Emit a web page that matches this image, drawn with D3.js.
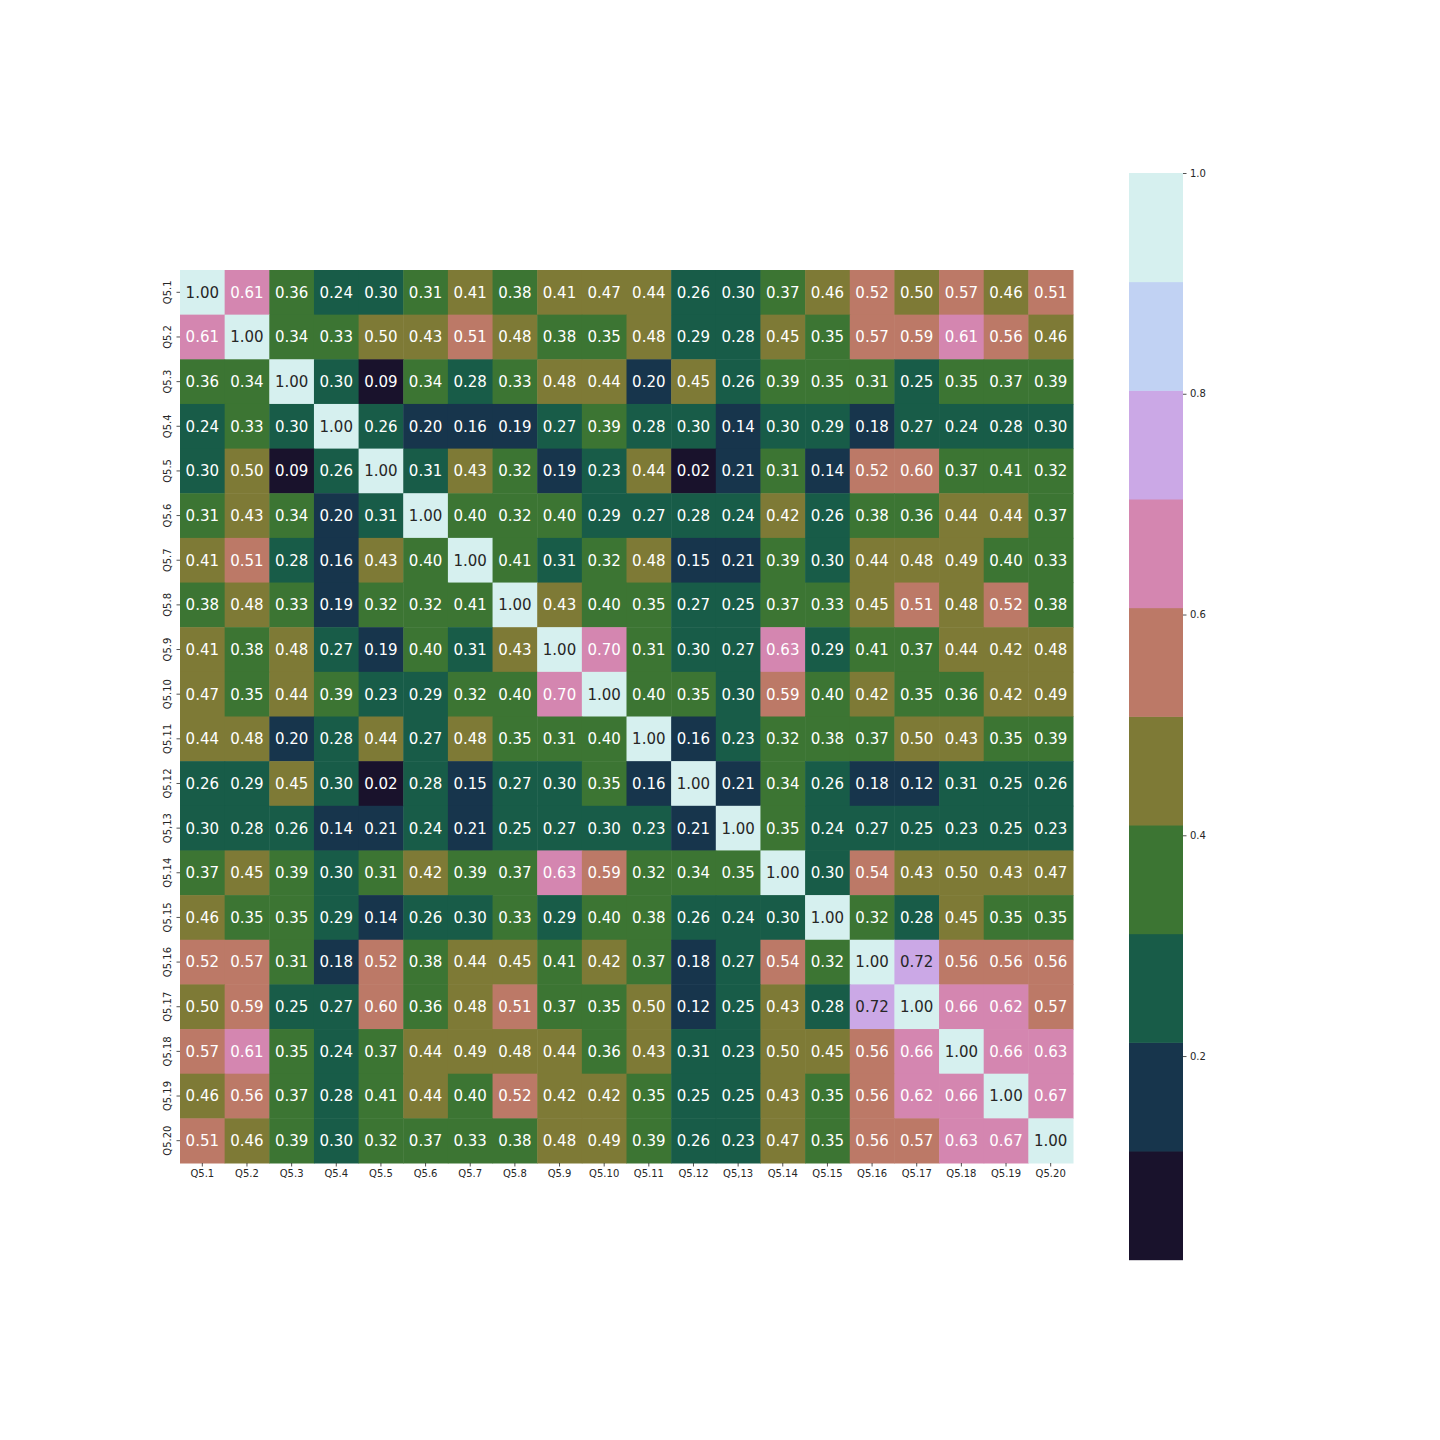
<!DOCTYPE html>
<html>
<head>
<meta charset="utf-8">
<script src="https://cdn.jsdelivr.net/npm/d3@7"></script>
<style>
  body { margin: 0; background: #fff; }
  svg { font-family: "DejaVu Sans", sans-serif; }
</style>
</head>
<body>
<div id="chart"></div>
<script>
var labels = ["Q5.1","Q5.2","Q5.3","Q5.4","Q5.5","Q5.6","Q5.7","Q5.8","Q5.9","Q5.10",
              "Q5.11","Q5.12","Q5,13","Q5.14","Q5.15","Q5.16","Q5.17","Q5.18","Q5.19","Q5.20"];

// correlation rows, Q5.1 .. Q5.20
var row01 = [1.00,0.61,0.36,0.24,0.30,0.313,0.413,0.38,0.413,0.47,0.44,0.26,0.30,0.37,0.46,0.52,0.50,0.57,0.46,0.51];
var row02 = [0.61,1.00,0.34,0.33,0.50,0.43,0.51,0.48,0.38,0.35,0.48,0.29,0.28,0.45,0.35,0.57,0.59,0.61,0.56,0.46];
var row03 = [0.36,0.34,1.00,0.30,0.09,0.34,0.28,0.33,0.48,0.44,0.20,0.45,0.26,0.39,0.35,0.313,0.25,0.35,0.37,0.39];
var row04 = [0.24,0.33,0.30,1.00,0.26,0.20,0.16,0.19,0.27,0.39,0.28,0.30,0.14,0.30,0.29,0.18,0.27,0.24,0.28,0.30];
var row05 = [0.30,0.50,0.09,0.26,1.00,0.307,0.43,0.32,0.19,0.23,0.44,0.0155,0.21,0.313,0.14,0.52,0.60,0.37,0.407,0.32];
var row06 = [0.313,0.43,0.34,0.20,0.307,1.00,0.40,0.32,0.40,0.29,0.27,0.28,0.24,0.42,0.26,0.38,0.36,0.44,0.44,0.37];
var row07 = [0.413,0.51,0.28,0.16,0.43,0.40,1.00,0.407,0.307,0.32,0.48,0.15,0.21,0.39,0.30,0.44,0.48,0.49,0.40,0.33];
var row08 = [0.38,0.48,0.33,0.19,0.32,0.32,0.407,1.00,0.43,0.40,0.35,0.27,0.25,0.37,0.33,0.45,0.51,0.48,0.52,0.38];
var row09 = [0.413,0.38,0.48,0.27,0.19,0.40,0.307,0.43,1.00,0.70,0.313,0.30,0.27,0.63,0.29,0.407,0.37,0.44,0.42,0.48];
var row10 = [0.47,0.35,0.44,0.39,0.23,0.29,0.32,0.40,0.70,1.00,0.40,0.35,0.30,0.59,0.40,0.42,0.35,0.36,0.42,0.49];
var row11 = [0.44,0.48,0.20,0.28,0.44,0.27,0.48,0.35,0.313,0.40,1.00,0.16,0.23,0.32,0.38,0.37,0.50,0.43,0.35,0.39];
var row12 = [0.26,0.29,0.45,0.30,0.0155,0.28,0.15,0.27,0.30,0.35,0.16,1.00,0.21,0.34,0.26,0.18,0.12,0.307,0.25,0.26];
var row13 = [0.30,0.28,0.26,0.14,0.21,0.24,0.21,0.25,0.27,0.30,0.23,0.21,1.00,0.35,0.24,0.27,0.25,0.23,0.25,0.23];
var row14 = [0.37,0.45,0.39,0.30,0.313,0.42,0.39,0.37,0.63,0.59,0.32,0.34,0.35,1.00,0.30,0.54,0.43,0.50,0.43,0.47];
var row15 = [0.46,0.35,0.35,0.29,0.14,0.26,0.30,0.33,0.29,0.40,0.38,0.26,0.24,0.30,1.00,0.32,0.28,0.45,0.35,0.35];
var row16 = [0.52,0.57,0.313,0.18,0.52,0.38,0.44,0.45,0.407,0.42,0.37,0.18,0.27,0.54,0.32,1.00,0.72,0.56,0.56,0.56];
var row17 = [0.50,0.59,0.25,0.27,0.60,0.36,0.48,0.51,0.37,0.35,0.50,0.12,0.25,0.43,0.28,0.72,1.00,0.66,0.62,0.57];
var row18 = [0.57,0.61,0.35,0.24,0.37,0.44,0.49,0.48,0.44,0.36,0.43,0.307,0.23,0.50,0.45,0.56,0.66,1.00,0.66,0.63];
var row19 = [0.46,0.56,0.37,0.28,0.407,0.44,0.40,0.52,0.42,0.42,0.35,0.25,0.25,0.43,0.35,0.56,0.62,0.66,1.00,0.67];
var row20 = [0.51,0.46,0.39,0.30,0.32,0.37,0.33,0.38,0.48,0.49,0.39,0.26,0.23,0.47,0.35,0.56,0.57,0.63,0.67,1.00];

var colorbarTicks = [0.2, 0.4, 0.6, 0.8, 1.0];

var rows = [row01,row02,row03,row04,row05,row06,row07,row08,row09,row10,
            row11,row12,row13,row14,row15,row16,row17,row18,row19,row20];

// matplotlib cubehelix (gamma 1, s .5, r -1.5, h 1) sampled like seaborn does (10 bins)
function cubehelix(x){
  var amp = x * (1 - x) / 2;
  var phi = 2 * Math.PI * (0.5 / 3 - 1.5 * x);
  var c = Math.cos(phi), s = Math.sin(phi);
  var r = x + amp * (-0.14861 * c + 1.78277 * s);
  var g = x + amp * (-0.29227 * c - 0.90649 * s);
  var b = x + amp * (1.97294 * c);
  var f = function(v){ return Math.round(Math.max(0, Math.min(1, v)) * 255); };
  return d3.rgb(f(r), f(g), f(b)).formatHex();
}
var palette = [];
for (var i = 1; i <= 10; i++){
  palette.push(cubehelix(i / 11));
}

function luminance(hex){
  var c = d3.rgb(hex);
  var ch = [c.r, c.g, c.b].map(function(v){
    v = v / 255;
    return v <= 0.03928 ? v / 12.92 : Math.pow((v + 0.055) / 1.055, 2.4);
  });
  return 0.2126 * ch[0] + 0.7152 * ch[1] + 0.0722 * ch[2];
}

var drawHeatmap = function(div_id){
  var vmin = d3.min(rows, function(r){ return d3.min(r); });
  var vmax = 1.0;

  var svg = d3.select("#" + div_id).append("svg")
    .attr("width", 1440)
    .attr("height", 1440);

  var margin = {left: 180, top: 270}, size = 893;

  var x = d3.scaleBand().domain(labels).range([margin.left, margin.left + size]);
  var y = d3.scaleBand().domain(labels).range([margin.top, margin.top + size]);
  var color = d3.scaleQuantize().domain([vmin, vmax]).range(palette);

  var cells = [];
  rows.forEach(function(r, ri){
    r.forEach(function(v, ci){
      cells.push({row: labels[ri], col: labels[ci], value: v});
    });
  });

  var g = svg.append("g");

  g.selectAll("rect.cell")
    .data(cells)
    .enter()
    .append("rect")
    .attr("class", "cell")
    .attr("x", function(d){ return x(d.col); })
    .attr("y", function(d){ return y(d.row); })
    .attr("width", x.bandwidth() + 0.5)
    .attr("height", y.bandwidth() + 0.5)
    .attr("fill", function(d){ return color(d.value); });

  g.selectAll("text.annot")
    .data(cells)
    .enter()
    .append("text")
    .attr("class", "annot")
    .attr("x", function(d){ return x(d.col) + x.bandwidth() / 2; })
    .attr("y", function(d){ return y(d.row) + y.bandwidth() / 2; })
    .attr("dy", "0.36em")
    .attr("text-anchor", "middle")
    .attr("font-size", 15)
    .attr("fill", function(d){ return luminance(color(d.value)) > 0.408 ? "#262626" : "#ffffff"; })
    .text(function(d){ return d.value.toFixed(2); });

  // axes
  var xAxis = svg.append("g")
    .attr("transform", "translate(0," + (margin.top + size) + ")")
    .call(d3.axisBottom(x).tickSize(3.5).tickPadding(3.5));
  xAxis.select(".domain").remove();
  xAxis.selectAll("text").attr("font-size", 10).attr("fill", "#262626").attr("font-family", "DejaVu Sans");
  xAxis.selectAll("line").attr("stroke", "#262626").attr("stroke-width", 0.8);

  var yAxis = svg.append("g")
    .attr("transform", "translate(" + margin.left + ",0)")
    .call(d3.axisLeft(y).tickSize(3.5).tickPadding(3.5));
  yAxis.select(".domain").remove();
  yAxis.selectAll("line").attr("stroke", "#262626").attr("stroke-width", 0.8);
  yAxis.selectAll("text")
    .attr("font-size", 10)
    .attr("fill", "#262626")
    .attr("font-family", "DejaVu Sans")
    .attr("text-anchor", "middle")
    .attr("dy", null)
    .attr("x", null)
    .attr("transform", "translate(-12.5,0) rotate(-90)")
    .attr("dominant-baseline", "central");

  // colorbar
  var cbLeft = 1129, cbWidth = 54, cbTop = 173, cbBottom = 1259.7;
  var cy = d3.scaleLinear().domain([vmin, vmax]).range([cbBottom, cbTop]);
  var step = (vmax - vmin) / palette.length;

  svg.append("g").selectAll("rect")
    .data(palette)
    .enter()
    .append("rect")
    .attr("x", cbLeft)
    .attr("y", function(d, i){ return cy(vmin + step * (i + 1)); })
    .attr("width", cbWidth)
    .attr("height", function(d, i){ return cy(vmin + step * i) - cy(vmin + step * (i + 1)) + 0.5; })
    .attr("fill", function(d){ return d; });

  var cbAxis = svg.append("g")
    .attr("transform", "translate(" + (cbLeft + cbWidth) + ",0)")
    .call(d3.axisRight(cy).tickValues(colorbarTicks).tickFormat(d3.format(".1f")).tickSize(3.5).tickPadding(3.5));
  cbAxis.select(".domain").remove();
  cbAxis.selectAll("text").attr("font-size", 10).attr("fill", "#262626").attr("font-family", "DejaVu Sans");
  cbAxis.selectAll("line").attr("stroke", "#262626").attr("stroke-width", 0.8);
};

drawHeatmap("chart");
</script>
</body>
</html>
